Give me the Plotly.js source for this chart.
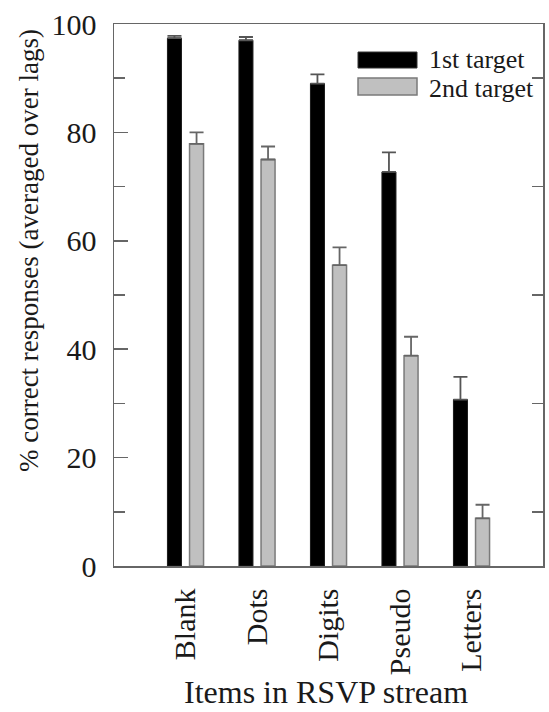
<!DOCTYPE html>
<html>
<head>
<meta charset="utf-8">
<script src="https://cdn.plot.ly/plotly-3.0.1.min.js"></script>
<style>
html,body{margin:0;padding:0;background:#fff;}
#chart{width:549px;height:712px;}
</style>
</head>
<body>
<div id="chart"></div>
<script>
var categories = ["Blank", "Dots", "Digits", "Pseudo", "Letters"];
var firstTarget = [97.4, 97.0, 89.0, 72.7, 30.7];
var firstTargetErr = [0.4, 0.6, 1.7, 3.6, 4.2];
var secondTarget = [77.9, 75.0, 55.5, 38.8, 8.8];
var secondTargetErr = [2.1, 2.4, 3.3, 3.5, 2.5];
var seriesNames = ["1st target", "2nd target"];
var yTickVals = [0, 20, 40, 60, 80, 100];
var rightTickVals = [10, 30, 50, 70, 90];
var xTitle = "Items in RSVP stream";
var yTitle = "% correct responses (averaged over lags)";

var FONT = '"Liberation Serif", serif';
var AX = "#666666";
var TXT = "#1a1a1a";

var traces = [
  {
    type: "bar", name: seriesNames[0], x: categories, y: firstTarget,
    width: 0.196, offset: -0.2525,
    marker: {color: "#000000", line: {color: "#1a1a1a", width: 1}},
    error_y: {type: "data", array: firstTargetErr, symmetric: false,
      arrayminus: firstTargetErr.map(function(){return 0;}),
      color: "#555555", thickness: 1.8, width: 7},
    showlegend: false, hoverinfo: "skip"
  },
  {
    type: "bar", name: seriesNames[1], x: categories, y: secondTarget,
    width: 0.196, offset: 0.0565,
    marker: {color: "#c0c0c0", line: {color: "#7a7a7a", width: 1.5}},
    error_y: {type: "data", array: secondTargetErr, symmetric: false,
      arrayminus: secondTargetErr.map(function(){return 0;}),
      color: "#666666", thickness: 1.8, width: 7},
    showlegend: false, hoverinfo: "skip"
  },
  {
    type: "scatter", x: [categories[0]], y: [0], yaxis: "y2",
    mode: "markers", marker: {opacity: 0}, showlegend: false, hoverinfo: "skip"
  }
];

var layout = {
  width: 549, height: 712,
  margin: {l: 114, r: 6, t: 24, b: 146},
  paper_bgcolor: "#ffffff", plot_bgcolor: "#ffffff",
  font: {family: FONT, color: TXT},
  barmode: "overlay",
  showlegend: false,
  xaxis: {
    type: "category", range: [-1, 5],
    showline: true, linecolor: AX, linewidth: 1.5, mirror: true,
    ticks: "", tickangle: -90,
    tickfont: {family: FONT, size: 30, color: TXT},
    ticklabelstandoff: 9,
    showgrid: false, zeroline: false
  },
  yaxis: {
    range: [0, 100], tickvals: yTickVals, ticktext: yTickVals.map(String),
    showline: true, linecolor: AX, linewidth: 1.5, mirror: true,
    ticks: "inside", ticklen: 14, tickwidth: 1.5, tickcolor: AX,
    minor: {dtick: 10, tick0: 0, ticks: "inside", ticklen: 11, tickwidth: 1.5, tickcolor: AX, showgrid: false},
    tickfont: {family: FONT, size: 30, color: TXT},
    ticklabelstandoff: 10,
    showgrid: false, zeroline: false
  },
  yaxis2: {
    overlaying: "y", side: "right", range: [0, 100],
    tickvals: rightTickVals, showticklabels: false,
    ticks: "inside", ticklen: 11, tickwidth: 1.5, tickcolor: AX,
    showline: false, showgrid: false, zeroline: false
  },
  shapes: [
    {type: "rect", xref: "paper", yref: "paper", x0: 0.5688, x1: 0.7063, y0: 0.9188, y1: 0.9483,
      fillcolor: "#000000", line: {color: "#333333", width: 1}},
    {type: "rect", xref: "paper", yref: "paper", x0: 0.5688, x1: 0.7063, y0: 0.8690, y1: 0.9004,
      fillcolor: "#c0c0c0", line: {color: "#7a7a7a", width: 1.5}}
  ],
  annotations: [
    {xref: "paper", yref: "paper", x: 0.7296, y: 0.9336, xanchor: "left", yanchor: "middle",
      text: seriesNames[0], showarrow: false, font: {family: FONT, size: 26, color: TXT}},
    {xref: "paper", yref: "paper", x: 0.7296, y: 0.881, xanchor: "left", yanchor: "middle",
      text: seriesNames[1], showarrow: false, font: {family: FONT, size: 26, color: TXT}},
    {xref: "paper", yref: "paper", x: 0.494, y: -0.2675, xanchor: "center", yanchor: "bottom",
      borderpad: 0, text: xTitle, showarrow: false, font: {family: FONT, size: 32, color: TXT}},
    {xref: "paper", yref: "paper", x: -0.1993, y: 0.582, xanchor: "center", yanchor: "middle",
      textangle: -90, text: yTitle, showarrow: false, font: {family: FONT, size: 27, color: TXT}}
  ]
};

Plotly.newPlot("chart", traces, layout, {displayModeBar: false, staticPlot: true});
</script>
</body>
</html>
